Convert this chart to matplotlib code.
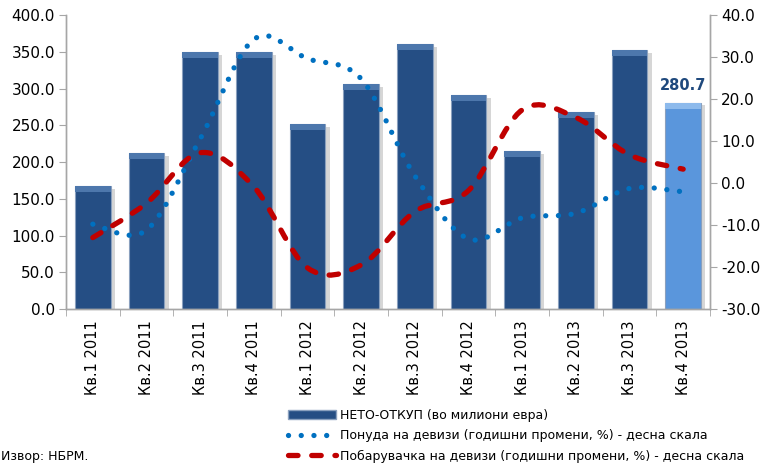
import matplotlib
matplotlib.use("Agg")
import matplotlib.pyplot as plt
import numpy as np
from matplotlib.path import Path
from matplotlib.patches import PathPatch, Patch
from matplotlib.lines import Line2D
import matplotlib.patheffects as pe
from matplotlib.ticker import FormatStrFormatter, MultipleLocator

plt.rcParams['font.family'] = ['DejaVu Sans']

categories = ["Кв.1 2011", "Кв.2 2011", "Кв.3 2011", "Кв.4 2011",
              "Кв.1 2012", "Кв.2 2012", "Кв.3 2012", "Кв.4 2012",
              "Кв.1 2013", "Кв.2 2013", "Кв.3 2013", "Кв.4 2013"]
net_purchase = [167, 212, 350, 350, 252, 306, 360, 291, 215, 268, 352, 280.7]
supply = [-9.8, -11.2, 10.5, 34.2, 29.6, 24.8, 1.7, -13.3, -8.3, -7.2, -1.3, -2.1]
demand = [-13.0, -4.8, 7.2, -0.9, -20.2, -19.5, -6.8, -1.8, 17.4, 15.6, 6.7, 3.3]

label_bar = "НЕТО-ОТКУП (во милиони евра)"
label_supply = "Понуда на девизи (годишни промени, %) - десна скала"
label_demand = "Побарувачка на девизи (годишни промени, %) - десна скала"
source = "Извор: НБРМ."

DARK = "#254E84"
LIGHT = "#5A96DC"
BLUE = "#0070C0"
RED = "#C00000"
GRAY = "#A6A6A6"

fig = plt.figure(figsize=(7.66, 4.65), dpi=100)
ax = fig.add_axes([66/766, 1-309/465, (710-66)/766, (309-15)/465])
ax2 = ax.twinx()

x = np.arange(len(categories))
colors = [DARK]*(len(categories)-1) + [LIGHT]
bars = ax.bar(x, net_purchase, width=0.67, color=colors, edgecolor="#8AA0BE",
              linewidth=0.8, zorder=2)
for b in bars:
    b.set_path_effects([pe.SimplePatchShadow(offset=(3, -2), shadow_rgbFace="#000000", alpha=0.16),
                        pe.Normal()])
# bevel highlight on top of bars
vals = np.array(net_purchase)
band = 8.0
hl = ["#4D77AC"]*(len(categories)-1) + ["#8DBAEC"]
ax.bar(x, band, bottom=vals-band, width=0.67, color=hl, linewidth=0, zorder=3)

ax.set_xlim(-0.5, len(categories)-0.5)
ax.set_ylim(0, 400)
ax.yaxis.set_major_locator(MultipleLocator(50))
ax.yaxis.set_major_formatter(FormatStrFormatter('%.1f'))
ax2.set_ylim(-30, 40)
ax2.yaxis.set_major_locator(MultipleLocator(10))
ax2.yaxis.set_major_formatter(FormatStrFormatter('%.1f'))

ax.set_xticks(x)
ax.set_xticklabels(categories, rotation=90, fontsize=10.5)
ax.set_xticks(np.arange(-0.5, len(categories), 1.0), minor=True)
ax.tick_params(axis='x', which='major', length=0, pad=8)
ax.tick_params(axis='x', which='minor', length=5, color=GRAY, direction='out')
ax.tick_params(axis='y', labelsize=11, length=5, color=GRAY, direction='out', pad=3)
ax2.tick_params(axis='y', labelsize=11, length=5, color=GRAY, direction='out', pad=3)

for a in (ax, ax2):
    a.spines['top'].set_visible(False)
    for s in ('left', 'right', 'bottom'):
        a.spines[s].set_color(GRAY)
        a.spines[s].set_linewidth(1.0)

# data label on last bar
ax.annotate(f"{net_purchase[-1]:.1f}", (x[-1], net_purchase[-1]), xytext=(0, 7),
            textcoords='offset points', ha='center', va='bottom',
            fontsize=10.5, fontweight='bold', color="#1F497D", zorder=6)

def smooth_path(xs, ys):
    pts = np.column_stack([xs, ys]).astype(float)
    n = len(pts)
    verts = [pts[0]]
    codes = [Path.MOVETO]
    for i in range(n-1):
        p0 = pts[i-1] if i > 0 else pts[i]
        p1 = pts[i]
        p2 = pts[i+1]
        p3 = pts[i+2] if i+2 < n else pts[i+1]
        c1 = p1 + (p2 - p0) / 6.0
        c2 = p2 - (p3 - p1) / 6.0
        verts += [c1, c2, p2]
        codes += [Path.CURVE4]*3
    return Path(verts, codes)

sp = PathPatch(smooth_path(x, supply), fill=False, edgecolor=BLUE, linewidth=3.8,
               linestyle=(0, (0.01, 2.4)), capstyle='round', zorder=4)
dp = PathPatch(smooth_path(x, demand), fill=False, edgecolor=RED, linewidth=3.8,
               linestyle=(0, (1.8, 2.6)), capstyle='round', zorder=5)
ax2.add_patch(sp)
ax2.add_patch(dp)
ax2.set_zorder(ax.get_zorder()+1)
ax2.patch.set_visible(False)

handles = [Patch(facecolor=DARK, edgecolor="#8AA0BE"),
           Line2D([], [], color=BLUE, lw=3.8, linestyle=(0, (0.01, 2.4)), dash_capstyle='round'),
           Line2D([], [], color=RED, lw=3.8, linestyle=(0, (1.8, 2.6)), dash_capstyle='round')]
fig.legend(handles, [label_bar, label_supply, label_demand], loc='upper left',
           bbox_to_anchor=(288/766, 1-409/465), frameon=False, fontsize=9,
           handlelength=3.8, handletextpad=0.4, labelspacing=0.58, borderpad=0,
           borderaxespad=0)

fig.text(1/766, 1-456/465, source, fontsize=9, va='center', ha='left')

fig.savefig("out.png", dpi=100)
